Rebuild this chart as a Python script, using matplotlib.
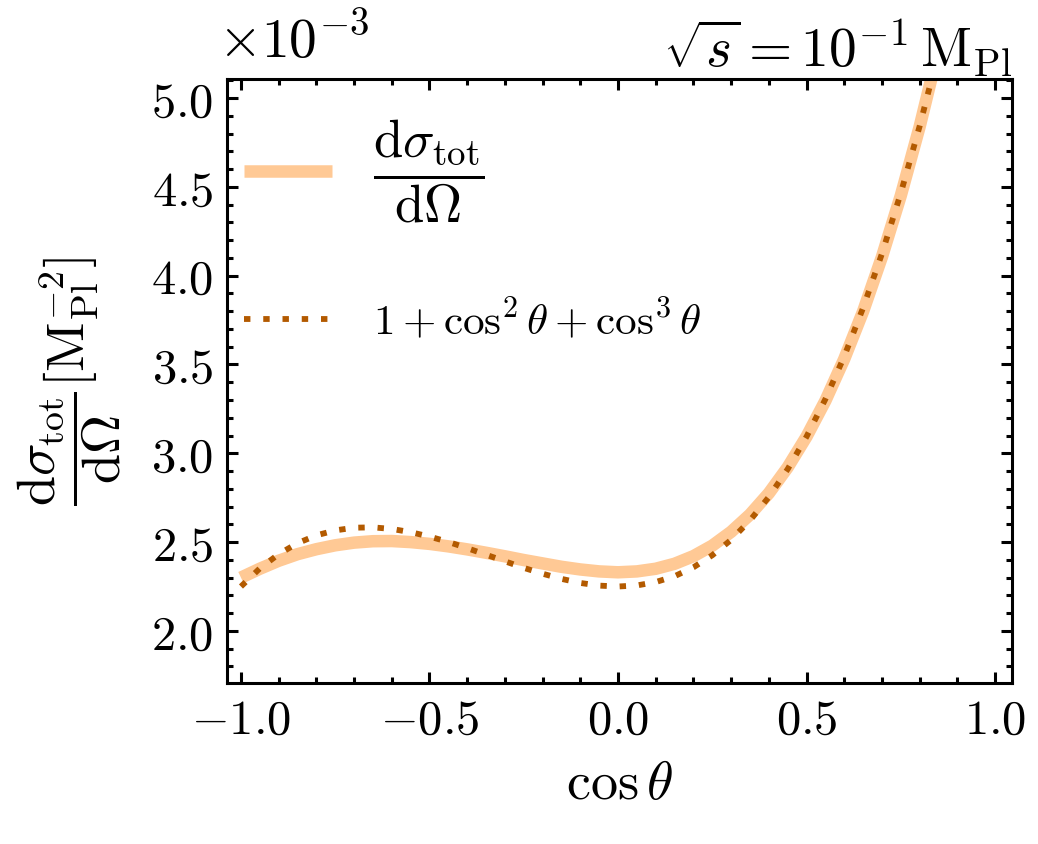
import matplotlib
matplotlib.use("Agg")
import matplotlib.pyplot as plt
from matplotlib.ticker import MultipleLocator, FuncFormatter

plt.rcParams['mathtext.fontset'] = 'cm'
plt.rcParams['font.family'] = 'serif'
plt.rcParams['font.serif'] = ['DejaVu Serif']

# cos(theta) grid, values (units of 1e-3 M_Pl^-2)
cos_theta = [-1.00, -0.95, -0.90, -0.85, -0.80, -0.75, -0.70, -0.65, -0.60, -0.55,
             -0.50, -0.45, -0.40, -0.35, -0.30, -0.25, -0.20, -0.15, -0.10, -0.05,
             0.00, 0.05, 0.10, 0.15, 0.20, 0.25, 0.30, 0.35, 0.40, 0.45,
             0.50, 0.55, 0.60, 0.65, 0.70, 0.75, 0.80, 0.85]

dsigma_tot = [2.300, 2.350, 2.395, 2.432, 2.460, 2.482, 2.497, 2.505, 2.506, 2.500,
              2.490, 2.476, 2.459, 2.440, 2.420, 2.399, 2.380, 2.361, 2.346, 2.335,
              2.330, 2.335, 2.350, 2.378, 2.421, 2.480, 2.558, 2.655, 2.775, 2.921,
              3.094, 3.296, 3.531, 3.799, 4.106, 4.451, 4.839, 5.274]

approx_fit = [2.250, 2.352, 2.432, 2.494, 2.538, 2.566, 2.581, 2.583, 2.574, 2.556,
              2.531, 2.501, 2.466, 2.429, 2.392, 2.355, 2.322, 2.293, 2.270, 2.255,
              2.250, 2.256, 2.275, 2.308, 2.358, 2.426, 2.513, 2.622, 2.754, 2.911,
              3.094, 3.305, 3.546, 3.819, 4.124, 4.465, 4.842, 5.258]

fig = plt.figure(figsize=(10.38, 8.44), dpi=100)
ax = fig.add_axes([0.2187, 0.1908, 0.7563, 0.7156])

ax.plot(cos_theta, dsigma_tot, color='#FFC995', lw=9, solid_capstyle='butt',
        label=r'$\dfrac{\mathrm{d}\sigma_{\mathrm{tot}}}{\mathrm{d}\Omega}$')
ax.plot(cos_theta, approx_fit, color='#B35A00', lw=4.2, dashes=(1.1, 2.2),
        dash_capstyle='butt',
        label=r'$1+\cos^2\theta+\cos^3\theta$')

ax.set_xlim(-1.037, 1.045)
ax.set_ylim(1.707, 5.107)

ax.xaxis.set_major_locator(MultipleLocator(0.5))
ax.xaxis.set_minor_locator(MultipleLocator(0.1))
ax.yaxis.set_major_locator(MultipleLocator(0.5))
ax.yaxis.set_minor_locator(MultipleLocator(0.1))
fmt = FuncFormatter(lambda v, p: r'$%.1f$' % v)
ax.xaxis.set_major_formatter(fmt)
ax.yaxis.set_major_formatter(fmt)

ax.tick_params(which='both', direction='in', top=True, right=True, width=2.2)
ax.tick_params(which='major', length=8, labelsize=35, pad=10)
ax.tick_params(which='minor', length=4.5)
for sp in ax.spines.values():
    sp.set_linewidth(2.2)

ax.set_xlabel(r'$\cos\theta$', fontsize=39, labelpad=10)
ax.set_ylabel(r'$\dfrac{\mathrm{d}\sigma_{\mathrm{tot}}}{\mathrm{d}\Omega}[\mathrm{M}_{\mathrm{Pl}}^{-2}]$',
              fontsize=39, labelpad=20)
ax.set_title(r'$\sqrt{s}=10^{-1}\,\mathrm{M}_{\mathrm{Pl}}$', fontsize=40, loc='right', pad=4)
ax.text(-0.012, 1.015, r'$\times10^{-3}$', transform=ax.transAxes, fontsize=40,
        ha='left', va='bottom')

leg = ax.legend(loc='upper left', bbox_to_anchor=(0.0, 0.965), frameon=False,
                fontsize=31, handlelength=2.05, handletextpad=0.95,
                labelspacing=1.7, borderaxespad=0.1, borderpad=0.3)
leg.get_texts()[0].set_fontsize(38)

fig.savefig('out.png', dpi=100)
